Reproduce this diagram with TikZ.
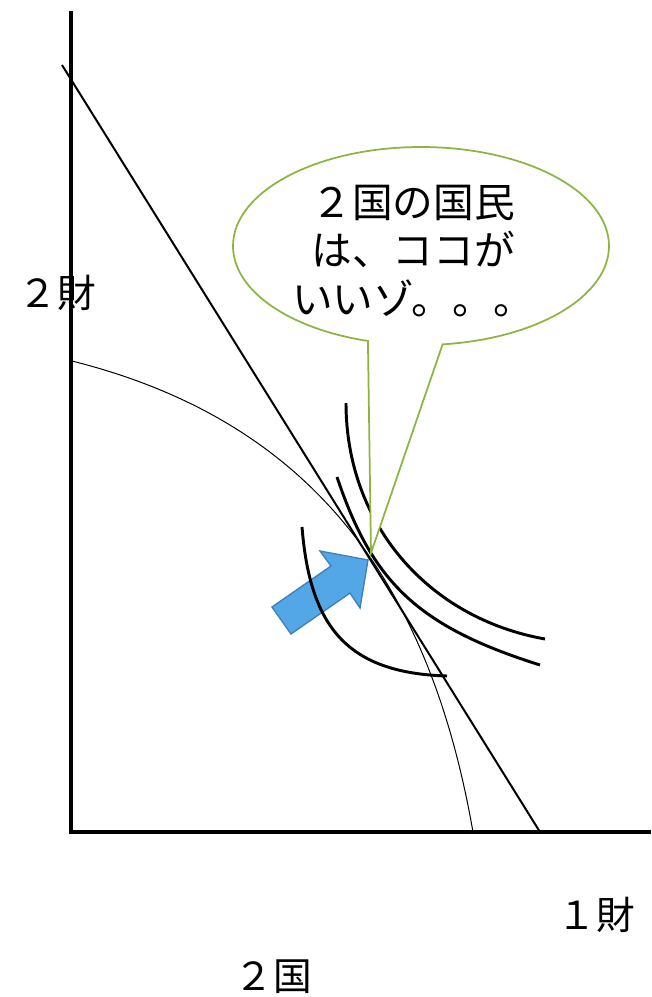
\documentclass[tikz,border=0pt]{standalone}
\usepackage{fontspec}
\setmainfont{Noto Sans CJK JP}
\usetikzlibrary{shapes.callouts}
\definecolor{bubblegreen}{RGB}{140,180,62}
\definecolor{arrowblue}{RGB}{84,167,230}
\definecolor{arrowedge}{RGB}{62,128,184}
\begin{document}
\begin{tikzpicture}[x=0.75pt,y=-0.75pt]
	\tikzstyle{axisline} = [line width=3pt]
	\tikzstyle{indiff} = [line width=2.2pt]
	\tikzstyle{axislabel} = [font={\fontsize{29}{29}\selectfont}, inner sep=0pt]
	\tikzstyle{bubble} = [ellipse callout, draw=bubblegreen, fill=white, line width=1.3pt, minimum width=282pt, minimum height=148.5pt, callout absolute pointer={(E)}, callout pointer arc=23]
	\tikzstyle{msg} = [font={\fontsize{30.5}{36.4}\selectfont}, align=center, inner sep=0pt]
	\useasboundingbox (0,0) rectangle (651,997);
	\coordinate (origin) at (71,832);
	\coordinate (E) at (371,553);
	\draw[fill=arrowblue, draw=arrowedge, line width=1pt] (272,607) -- (331,566) -- (320,551) -- (368,560) -- (360,608) -- (350,593) -- (291,634) -- cycle;
	\draw[axisline] (71,11) -- (origin) -- (651,832);
	\draw[line width=1.5pt] (62,65) -- (540,832);
	\draw[line width=0.75pt] (72,361) .. controls (315,422) and (430,586) .. (473,832);
	\draw[indiff] (346,403) .. controls (346,523) and (427,618) .. (545,639);
	\draw[indiff] (337,477) .. controls (372,581) and (416,626) .. (540,665);
	\draw[indiff] (302,527) .. controls (310,627) and (347,673) .. (447,676);
	\node[bubble] (bubble) at (421,246) {};
	\node[msg] (msg) at (413,251) {２国の国民\\は、ココが\\いいゾ。。。};
	\node[axislabel] (goodtwo) at (57,293) {２財};
	\node[axislabel] (goodone) at (596,915) {１財};
	\node[axislabel] (country) at (273,977) {２国};
\end{tikzpicture}
\end{document}
